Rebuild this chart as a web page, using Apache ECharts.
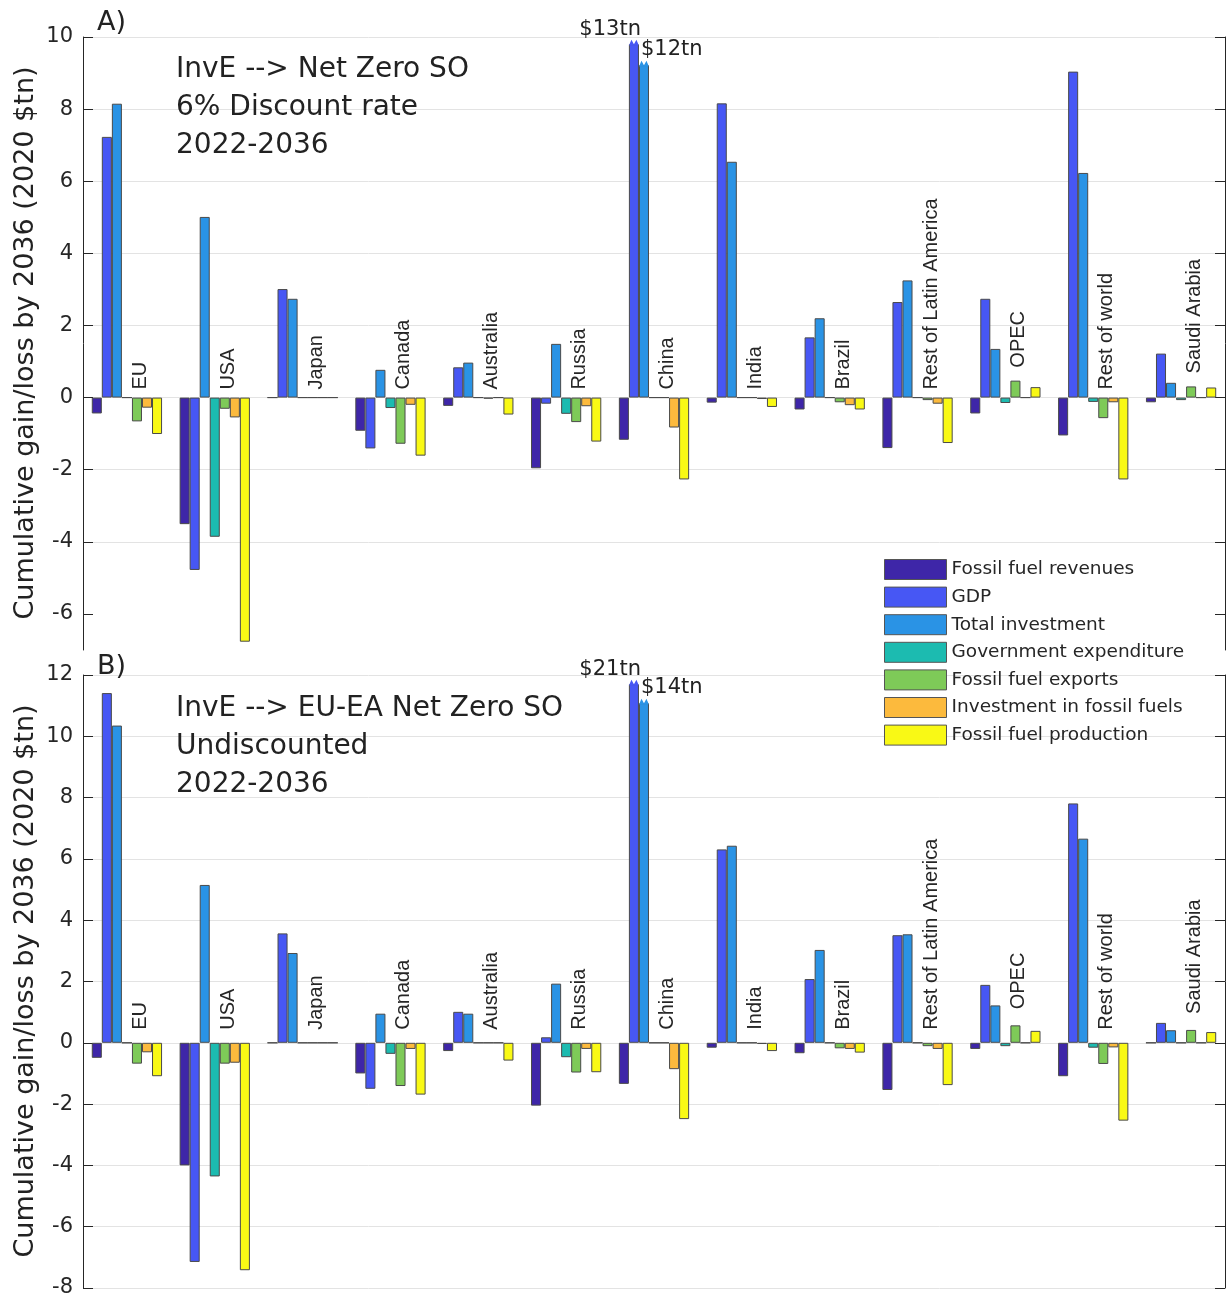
<!DOCTYPE html>
<html>
<head>
<meta charset="utf-8">
<script src="https://cdn.jsdelivr.net/npm/echarts@6/dist/echarts.min.js"></script>
<style>
html,body{margin:0;padding:0;background:#fff;}
#chart{width:1226px;height:1299px;}
</style>
</head>
<body>
<div id="chart"></div>
<script>
/*------------------- data -------------------*/
var regions = ['EU','USA','Japan','Canada','Australia','Russia','China','India','Brazil',
               'Rest of Latin America','OPEC','Rest of world','Saudi Arabia'];
var seriesNames = ['Fossil fuel revenues','GDP','Total investment','Government expenditure',
                   'Fossil fuel exports','Investment in fossil fuels','Fossil fuel production'];

// panel A : InvE --> Net Zero SO, 6% discount rate
var revA      = [-0.44,-3.51, 0,   -0.92,-0.23,-1.96,-1.17,-0.14,-0.33,-1.40,-0.44,-1.05,-0.13];
var gdpA      = [ 7.23,-4.78, 3.01,-1.41, 0.84,-0.17, 9.80, 8.16, 1.67, 2.65, 2.74, 9.04, 1.22];
var totInvA   = [ 8.15, 5.01, 2.74, 0.77, 0.97, 1.49, 9.22, 6.54, 2.20, 3.25, 1.35, 6.23, 0.41];
var govA      = [ 0,   -3.86, 0,   -0.29, 0,   -0.45, 0,    0,    0,    0,   -0.15,-0.12,-0.07];
var exportsA  = [-0.66,-0.31, 0,   -1.28,-0.03,-0.68, 0,    0,   -0.13,-0.07, 0.47,-0.57, 0.31];
var invFossA  = [-0.28,-0.55, 0,   -0.20, 0,   -0.24,-0.83,-0.04,-0.21,-0.17, 0,   -0.13, 0];
var prodA     = [-1.01,-6.77, 0,   -1.61,-0.47,-1.22,-2.27,-0.26,-0.33,-1.26, 0.29,-2.27, 0.28];

// panel B : InvE --> EU-EA Net Zero SO, undiscounted
var revB      = [-0.49,-4.00, 0,   -1.00,-0.27,-2.05,-1.34,-0.16,-0.34,-1.54,-0.20,-1.09, 0];
var gdpB      = [11.41,-7.15, 3.57,-1.50, 1.01, 0.18,11.70, 6.31, 2.08, 3.51, 1.89, 7.81, 0.65];
var totInvB   = [10.35, 5.15, 2.93, 0.95, 0.95, 1.93,11.08, 6.43, 3.03, 3.54, 1.22, 6.66, 0.41];
var govB      = [ 0,   -4.36, 0,   -0.36, 0,   -0.47, 0,    0,    0,    0,   -0.11,-0.16, 0];
var exportsB  = [-0.68,-0.68, 0,   -1.41, 0,   -0.97, 0,    0,   -0.18,-0.11, 0.57,-0.69, 0.42];
var invFossB  = [-0.31,-0.65, 0,   -0.20, 0,   -0.20,-0.86,-0.04,-0.20,-0.20, 0,   -0.15, 0];
var prodB     = [-1.09,-7.42, 0,   -1.69,-0.58,-0.96,-2.49,-0.27,-0.32,-1.38, 0.39,-2.54, 0.35];

// China bars are cut off, true totals written above them
var capRegion  = 'China';
var capLabelsA = ['$13tn','$12tn'];
var capLabelsB = ['$21tn','$14tn'];

var tickValsA = [-6,-4,-2,0,2,4,6,8,10];
var tickValsB = [-8,-6,-4,-2,0,2,4,6,8,10,12];

var colors = ['#3E26A8','#4757F4','#2A93E5','#1CBBB0','#7ECA58','#FCBA3D','#F9F915'];

/*------------------- chart -------------------*/
var myChart = echarts.init(document.getElementById('chart'));

var panels = [
    {data:[revA,gdpA,totInvA,govA,exportsA,invFossA,prodA], caps:capLabelsA, ticks:tickValsA,
     min:-7, max:10, top:37, lift:8, gap:13},
    {data:[revB,gdpB,totInvB,govB,exportsB,invFossB,prodB], caps:capLabelsB, ticks:tickValsB,
     min:-8, max:12, top:675, lift:13, gap:16}
];

var grids = [], xAxes = [], yAxes = [], series = [];
var axisCol = '#262626';

panels.forEach(function(pn, p){
    grids.push({left:83, top:pn.top, width:1142, height:613});
    xAxes.push({
        type:'category', gridIndex:p, data:regions,
        axisLine:{show:false}, axisTick:{show:false}, axisLabel:{show:false}, splitLine:{show:false}
    });
    yAxes.push({
        type:'value', gridIndex:p, min:pn.min, max:pn.max, splitNumber:(pn.max-pn.min)/2,
        axisLine:{show:true, lineStyle:{color:axisCol, width:1}},
        axisTick:{show:true, inside:true, length:10, lineStyle:{color:axisCol}, customValues:pn.ticks},
        axisLabel:{color:axisCol, fontSize:21, fontFamily:'DejaVu Sans', margin:10, customValues:pn.ticks},
        splitLine:{show:true, showMinLine:(p==1), lineStyle:{color:'#e3e3e3', width:1}}
    });
    yAxes.push({
        type:'value', gridIndex:p, position:'right', min:pn.min, max:pn.max, splitNumber:(pn.max-pn.min)/2,
        axisLine:{show:true, lineStyle:{color:axisCol, width:1}},
        axisTick:{show:true, inside:true, length:10, lineStyle:{color:axisCol}, customValues:pn.ticks},
        axisLabel:{show:false}, splitLine:{show:false}
    });

    for(var s=0;s<seriesNames.length;s++){
        series.push({
            name:seriesNames[s], type:'bar', xAxisIndex:p, yAxisIndex:p*2,
            barGap:'0%', barCategoryGap:'20%',
            itemStyle:{color:colors[s], borderColor:'#4a4a4a', borderWidth:1},
            emphasis:{disabled:true},
            data:pn.data[s]
        });
    }

    // region names, standing above the zero line (or above the small bars under them)
    series.push({
        type:'custom', xAxisIndex:p, yAxisIndex:p*2, silent:true, z:5,
        data:regions.map(function(r,i){
            var top = Math.max(0, pn.data[3][i], pn.data[4][i], pn.data[5][i], pn.data[6][i]);
            return [i, top];
        }),
        renderItem:function(params, api){
            var z = api.coord([api.value(0), 0]);
            var t = api.coord([api.value(0), api.value(1)]);
            var y = Math.min(z[1]-pn.lift, api.value(1) > 0 ? t[1]-pn.gap : 1e9);
            return {
                type:'text', x:z[0]+13.5, y:y, rotation:Math.PI/2,
                style:{text:regions[params.dataIndex], font:'20px "Liberation Sans"', fill:axisCol,
                       align:'left', verticalAlign:'middle'}
            };
        }
    });

    // zigzag tops + totals on the cut-off China bars
    var ci = regions.indexOf(capRegion);
    series.push({
        type:'custom', xAxisIndex:p, yAxisIndex:p*2, silent:true, z:6,
        data:[[ci, pn.data[1][ci], 1], [ci, pn.data[2][ci], 2]],
        renderItem:function(params, api){
            var k = api.value(2);
            var c = api.coord([api.value(0), api.value(1)]);
            var bw = api.size([1,0])[0]*0.8/7;
            var L = c[0] + (k-3.5)*bw, R = L+bw, y0 = c[1], h = 4.5;
            var lbl = pn.caps[params.dataIndex];
            return {
                type:'group',
                children:[
                    {type:'polygon',
                     shape:{points:[[L+0.6,y0+1.5],[L+0.6,y0],[L+bw*0.25,y0-h],[L+bw*0.5,y0],
                                    [L+bw*0.75,y0-h],[R-0.6,y0],[R-0.6,y0+1.5]]},
                     style:{fill:colors[k], stroke:null}},
                    {type:'text', x:(k==1 ? R+2 : L+2), y:y0-h-(k==1 ? 0 : 1),
                     style:{text:lbl, font:'21px "DejaVu Sans"', fill:'#222',
                            align:(k==1 ? 'right' : 'left'), verticalAlign:'bottom'}}
                ]
            };
        }
    });
});

var titleFont = '28px "DejaVu Sans"';
function txt(x, y, t, font, rot, align){
    return {type:'text', x:x, y:y, rotation:rot||0, z:10,
            style:{text:t, font:font, fill:'#222', align:align||'left', verticalAlign:'middle'}};
}

var option = {
    backgroundColor:'#ffffff',
    animation:false,
    color:colors,
    grid:grids,
    xAxis:xAxes,
    yAxis:yAxes,
    legend:{
        data:seriesNames, orient:'vertical', left:879, top:554,
        itemWidth:62, itemHeight:20, itemGap:6.6, icon:'rect',
        textStyle:{fontFamily:'DejaVu Sans', fontSize:18.5, color:axisCol},
        itemStyle:{borderColor:'#555', borderWidth:1}
    },
    graphic:[
        txt(97, 23, 'A)', '27px "DejaVu Sans"'),
        txt(97, 667, 'B)', '27px "DejaVu Sans"'),
        txt(176, 70, 'InvE --> Net Zero SO', titleFont),
        txt(176, 108, '6% Discount rate', titleFont),
        txt(176, 146, '2022-2036', titleFont),
        txt(176, 709, 'InvE --> EU-EA Net Zero SO', titleFont),
        txt(176, 747, 'Undiscounted', titleFont),
        txt(176, 785, '2022-2036', titleFont),
        txt(26, 343, 'Cumulative gain/loss by 2036 (2020 $tn)', '27px "DejaVu Sans"', Math.PI/2, 'center'),
        txt(26, 981, 'Cumulative gain/loss by 2036 (2020 $tn)', '27px "DejaVu Sans"', Math.PI/2, 'center')
    ],
    series:series
};

myChart.setOption(option);
window.onresize = function(){ myChart.resize(); };
</script>
</body>
</html>
